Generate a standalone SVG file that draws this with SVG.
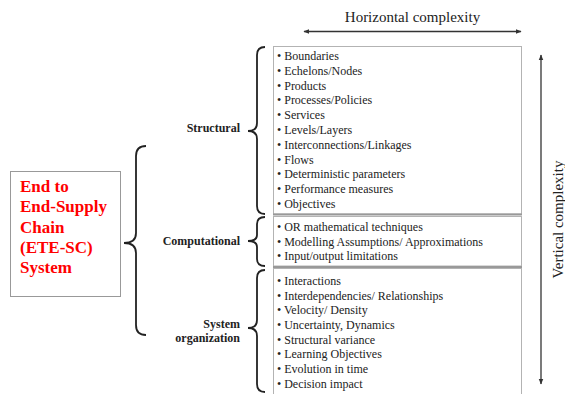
<svg xmlns="http://www.w3.org/2000/svg" width="565" height="394" viewBox="0 0 565 394">
<style>
.item{font-family:"Liberation Serif","Times New Roman",serif;font-size:12px;fill:#222}
.lbl{font-family:"Liberation Serif","Times New Roman",serif;font-size:12px;font-weight:bold;fill:#222;text-anchor:end}
.axis{font-family:"Liberation Serif","Times New Roman",serif;font-size:15px;fill:#222;text-anchor:middle}
.brace{fill:none;stroke:#222;stroke-width:1.8}
.box{fill:#fff;stroke:#b3b3b3;stroke-width:1}
.arr{stroke:#333;stroke-width:1.3}
</style>
<defs>
<marker id="ah" viewBox="0 0 10 10" refX="9" refY="5" markerWidth="6" markerHeight="6" orient="auto-start-reverse" markerUnits="userSpaceOnUse">
<path d="M0,1 L10,5 L0,9 z" fill="#333"/>
</marker>
</defs>
<rect width="565" height="394" fill="#fff"/>

<g id="main-node">
<rect x="10.5" y="171.5" width="110" height="125" fill="#fff" stroke="#999" stroke-width="1"/>
<text font-family="'Liberation Serif','Times New Roman',serif" font-size="17" font-weight="bold" fill="#f00">
<tspan x="20" y="192">End to</tspan>
<tspan x="20" y="212.3">End-Supply</tspan>
<tspan x="20" y="232.6">Chain</tspan>
<tspan x="20" y="252.9">(ETE-SC)</tspan>
<tspan x="20" y="273.2">System</tspan>
</text>
</g>

<g id="structural">
<rect class="box" x="273.5" y="46.5" width="248" height="167.5"/>
<line x1="273" y1="214.5" x2="522" y2="214.5" stroke="#999" stroke-width="2"/>
<text class="lbl" x="240" y="132">Structural</text>
<text class="item" x="277" y="60">• Boundaries</text>
<text class="item" x="277" y="74.8">• Echelons/Nodes</text>
<text class="item" x="277" y="89.6">• Products</text>
<text class="item" x="277" y="104.4">• Processes/Policies</text>
<text class="item" x="277" y="119.2">• Services</text>
<text class="item" x="277" y="134">• Levels/Layers</text>
<text class="item" x="277" y="148.8">• Interconnections/Linkages</text>
<text class="item" x="277" y="163.6">• Flows</text>
<text class="item" x="277" y="178.4">• Deterministic parameters</text>
<text class="item" x="277" y="193.2">• Performance measures</text>
<text class="item" x="277" y="208">• Objectives</text>
</g>

<g id="computational">
<rect class="box" x="273.5" y="216.5" width="248" height="49.5"/>
<line x1="273" y1="267" x2="522" y2="267" stroke="#999" stroke-width="2"/>
<text class="lbl" x="240" y="245">Computational</text>
<text class="item" x="277" y="231">• OR mathematical techniques</text>
<text class="item" x="277" y="245.5">• Modelling Assumptions/ Approximations</text>
<text class="item" x="277" y="260">• Input/output limitations</text>
</g>

<g id="system-organization">
<rect class="box" x="273.5" y="268.5" width="248" height="130"/>
<text class="lbl" x="240" y="328">System</text>
<text class="lbl" x="240" y="342">organization</text>
<text class="item" x="277" y="285">• Interactions</text>
<text class="item" x="277" y="299.7">• Interdependencies/ Relationships</text>
<text class="item" x="277" y="314.3">• Velocity/ Density</text>
<text class="item" x="277" y="329">• Uncertainty, Dynamics</text>
<text class="item" x="277" y="343.6">• Structural variance</text>
<text class="item" x="277" y="358.3">• Learning Objectives</text>
<text class="item" x="277" y="373">• Evolution in time</text>
<text class="item" x="277" y="387.6">• Decision impact</text>
</g>

<g id="connectors">
<path class="brace" d="M146,146 Q136,146 136,156 L136,233 Q136,243 124,243 Q136,243 136,253 L136,325 Q136,335 146,335"/>
<path class="brace" d="M265,47 Q257,47 257,55 L257,123 Q257,131 248,131 Q257,131 257,139 L257,206 Q257,214 265,214"/>
<path class="brace" d="M265,217 Q257,217 257,224 L257,235 Q257,241 248,241 Q257,241 257,247 L257,259 Q257,266 265,266"/>
<path class="brace" d="M265,270 Q257,270 257,278 L257,320 Q257,328 248,328 Q257,328 257,336 L257,384 Q257,392 265,392"/>
<line class="arr" x1="304" y1="31.5" x2="521" y2="31.5" marker-start="url(#ah)" marker-end="url(#ah)"/>
<line class="arr" x1="541" y1="55" x2="541" y2="384" marker-start="url(#ah)" marker-end="url(#ah)"/>
</g>

<g id="axis-labels">
<text class="axis" x="412.5" y="22">Horizontal complexity</text>
<text class="axis" transform="translate(563,219.5) rotate(-90)" x="0" y="0">Vertical complexity</text>
</g>
</svg>
